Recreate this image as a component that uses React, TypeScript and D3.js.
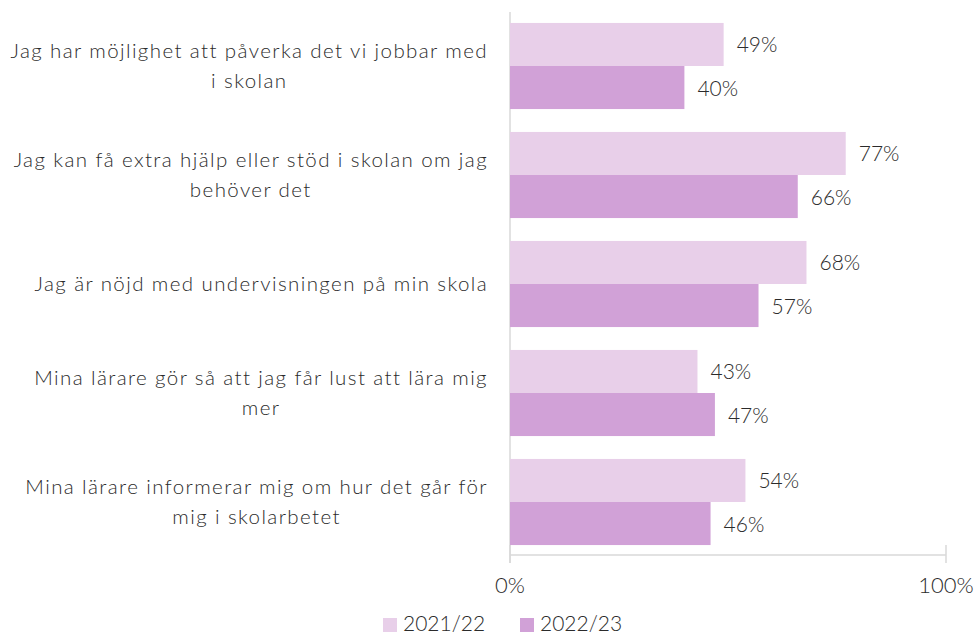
import React, { useEffect, useRef } from 'react';
import * as d3 from 'd3';

const categories = [
  ['Jag har möjlighet att påverka det vi jobbar med', 'i skolan'],
  ['Jag kan få extra hjälp eller stöd i skolan om jag', 'behöver det'],
  ['Jag är nöjd med undervisningen på min skola'],
  ['Mina lärare gör så att jag får lust att lära mig', 'mer'],
  ['Mina lärare informerar mig om hur det går för', 'mig i skolarbetet'],
];
const values2122 = [49, 77, 68, 43, 54];
const values2223 = [40, 66, 57, 47, 46];
const seriesNames = ['2021/22', '2022/23'];
const xTicks = [0, 100];

const colors = ['#E8CFE9', '#D1A1D7'];
const font = "Lato, 'Open Sans', sans-serif";
const textColor = '#2b2b2b';

export default function App() {
  const ref = useRef<SVGSVGElement>(null);

  useEffect(() => {
    const width = 978;
    const height = 637;
    const margin = { top: 11.5, left: 510, right: 32, bottom: 80.5 };

    const svg = d3.select(ref.current);
    svg.selectAll('*').remove();

    const xScale = d3
      .scaleLinear()
      .domain([0, 100])
      .range([margin.left, width - margin.right]);

    const yScale = d3
      .scaleBand<number>()
      .domain(d3.range(categories.length))
      .range([margin.top, height - margin.bottom])
      .paddingInner(0.21)
      .paddingOuter(0.105);

    const sScale = d3
      .scaleBand<number>()
      .domain([0, 1])
      .range([0, yScale.bandwidth()]);

    const series = [values2122, values2223];
    const axisY = height - margin.bottom - 1.5;

    // axes
    svg
      .append('line')
      .attr('x1', xScale(0))
      .attr('x2', xScale(0))
      .attr('y1', 12)
      .attr('y2', axisY + 8)
      .attr('stroke', '#d9d9d9')
      .attr('stroke-width', 1.5);
    svg
      .append('line')
      .attr('x1', xScale(0))
      .attr('x2', xScale(100))
      .attr('y1', axisY)
      .attr('y2', axisY)
      .attr('stroke', '#d9d9d9')
      .attr('stroke-width', 1.5);
    svg
      .selectAll('.tick')
      .data(xTicks)
      .enter()
      .append('line')
      .attr('x1', (d) => xScale(d))
      .attr('x2', (d) => xScale(d))
      .attr('y1', axisY - 10)
      .attr('y2', axisY + 8)
      .attr('stroke', '#d9d9d9')
      .attr('stroke-width', 1.5);
    svg
      .selectAll('.tickLabel')
      .data(xTicks)
      .enter()
      .append('text')
      .attr('x', (d) => xScale(d))
      .attr('y', axisY + 38)
      .attr('text-anchor', 'middle')
      .attr('font-family', font)
      .attr('font-weight', 300)
      .attr('font-size', 22)
      .attr('fill', textColor)
      .text((d) => `${d}%`);

    // bars + value labels
    series.forEach((vals, s) => {
      const g = svg.append('g');
      g.selectAll('rect')
        .data(vals)
        .enter()
        .append('rect')
        .attr('x', xScale(0))
        .attr('y', (_, i) => (yScale(i) as number) + (sScale(s) as number))
        .attr('width', (d) => xScale(d) - xScale(0))
        .attr('height', sScale.bandwidth())
        .attr('fill', colors[s]);
      g.selectAll('text')
        .data(vals)
        .enter()
        .append('text')
        .attr('x', (d) => xScale(d) + 13)
        .attr(
          'y',
          (_, i) => (yScale(i) as number) + (sScale(s) as number) + sScale.bandwidth() / 2 + 8
        )
        .attr('font-family', font)
        .attr('font-weight', 300)
        .attr('font-size', 21)
        .attr('fill', textColor)
        .text((d) => `${d}%`);
    });

    // category labels: block right-aligned, lines centered within block
    categories.forEach((lines, i) => {
      const c = (yScale(i) as number) + yScale.bandwidth() / 2;
      const g = svg.append('g');
      const texts = lines.map((line, j) =>
        g
          .append('text')
          .attr('y', c - (lines.length - 1) * 15 + 7 + j * 30)
          .attr('text-anchor', 'middle')
          .attr('font-family', font)
          .attr('font-weight', 300)
          .attr('font-size', 20.5)
          .attr('letter-spacing', 1.4)
          .attr('fill', textColor)
          .text(line)
      );
      const widths = texts.map((t) => (t.node() as SVGTextElement).getComputedTextLength());
      const w = d3.max(widths) as number;
      const cx = 488 - w / 2;
      texts.forEach((t) => t.attr('x', cx));
    });

    // legend
    const legend = svg.append('g').attr('transform', `translate(383, ${height - 19})`);
    seriesNames.forEach((name, s) => {
      const off = s * 137;
      legend
        .append('rect')
        .attr('x', off)
        .attr('y', 0)
        .attr('width', 14)
        .attr('height', 14)
        .attr('fill', colors[s]);
      legend
        .append('text')
        .attr('x', off + 20)
        .attr('y', 13)
        .attr('font-family', font)
        .attr('font-weight', 300)
        .attr('font-size', 21)
        .attr('fill', textColor)
        .text(name);
    });
  }, []);

  return (
    <svg
      ref={ref}
      width={978}
      height={637}
      style={{ position: 'absolute', left: 0, top: 0, background: '#fff' }}
    />
  );
}
